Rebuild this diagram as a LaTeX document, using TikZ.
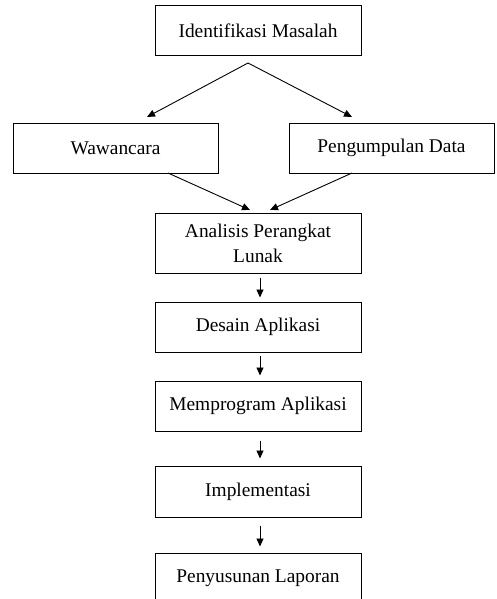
\documentclass[tikz,border=0pt]{standalone}
\usepackage{fontspec}
\setmainfont{Liberation Serif}
\usetikzlibrary{arrows.meta,calc}
\begin{document}
\begin{tikzpicture}[x=1pt,y=-1pt,
  box/.style={draw,line width=1pt,minimum width=206pt,minimum height=50pt,inner sep=0pt,
    align=center,font=\fontsize{19.4}{25}\selectfont},
  arr/.style={line width=0.9pt,-{Triangle[length=8pt,width=7pt]}}]
\useasboundingbox (0,0) rectangle (496,599);
\clip (0,0) rectangle (496,599);
\node[box] (idn) at (258,31) {Identifikasi Masalah};
\node[box,minimum width=205pt] (waw) at (115.5,148) {Wawancara};
\node[box,minimum width=205pt] (pen) at (391.5,148) {Pengumpulan Data};
\node[box,minimum height=60pt] (ana) at (258,243) {Analisis Perangkat\\Lunak};
\node[box] (des) at (258,327) {Desain Aplikasi};
\node[box] (mem) at (258,406) {Memprogram Aplikasi};
\node[box,minimum height=51pt] (imp) at (258,491.5) {Implementasi};
\node[box] (lap) at (258,578) {Penyusunan Laporan};
\coordinate (split) at (248,63);
\coordinate (wtip) at (147,117);
\coordinate (ptip) at (352,117);
\coordinate (wout) at (168,173);
\coordinate (pout) at (352,173);
\coordinate (atipl) at (250,210);
\coordinate (atipr) at (270,210);
\draw[arr] (split) -- (wtip);
\draw[arr] (split) -- (ptip);
\draw[arr] (wout) -- (atipl);
\draw[arr] (pout) -- (atipr);
\draw[arr,shorten <=4pt,shorten >=4pt] ([xshift=2pt]ana.south) -- ([xshift=2pt]des.north);
\draw[arr,shorten <=3pt,shorten >=5pt] ([xshift=2pt]des.south) -- ([xshift=2pt]mem.north);
\draw[arr,shorten <=9pt,shorten >=7pt] ([xshift=2pt]mem.south) -- ([xshift=2pt]imp.north);
\draw[arr,shorten <=8pt,shorten >=6pt] ([xshift=2pt]imp.south) -- ([xshift=2pt]lap.north);
\end{tikzpicture}
\end{document}
